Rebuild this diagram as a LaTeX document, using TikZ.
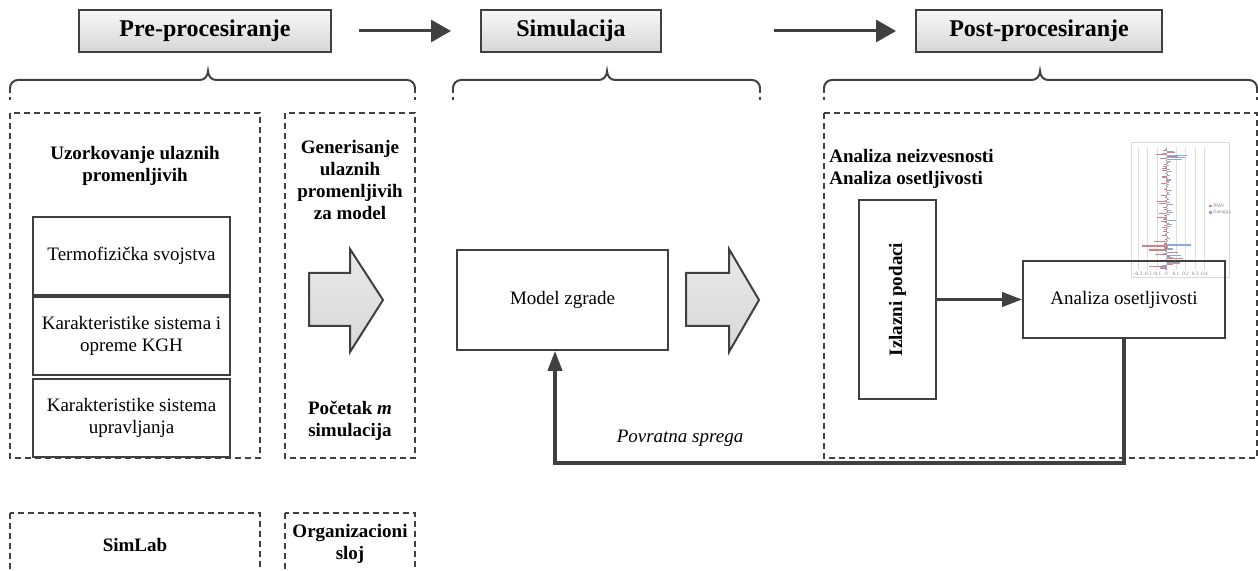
\documentclass[tikz,border=0pt]{standalone}
\usepackage{fontspec}
\setmainfont{Liberation Serif}
\usetikzlibrary{arrows.meta,calc}
\definecolor{linegray}{HTML}{404040}
\definecolor{pmvred}{RGB}{210,130,130}
\definecolor{enblue}{RGB}{140,170,215}

\begin{document}
\begin{tikzpicture}[x=0.5pt,y=-0.5pt,
  every node/.style={font=\fontsize{9.5}{11}\selectfont, inner sep=0pt, align=center},
  header/.style={draw=linegray, line width=1pt, top color=gray!6, bottom color=gray!32,
    minimum width=#1, minimum height=21pt, font=\fontsize{12}{14}\selectfont\bfseries},
  box/.style={draw=linegray, line width=0.8pt},
  bold/.style={font=\fontsize{9.5}{11}\selectfont\bfseries},
  dashbox/.style={draw=linegray, line width=1pt, dash pattern=on 3pt off 2pt},
  brace/.style={draw=linegray, line width=1pt},
  stage/.style={draw=linegray, line width=1.5pt, -{Triangle[length=10pt,width=11pt]}},
  flow/.style={draw=linegray, line width=1.8pt, -{Triangle[length=10pt,width=7pt]}},
  bigarrow/.style={draw=linegray, line width=1pt, top color=gray!18, bottom color=gray!30},
  ticklbl/.style={font=\fontsize{2.6}{2.8}\selectfont, text=gray}]
\useasboundingbox (0,0) rectangle (1258,571);

\node[header=126pt] (pre) at (205,31) {Pre-procesiranje};
\node[header=90pt] (sim) at (571,31) {Simulacija};
\node[header=123pt] (post) at (1039,31) {Post-procesiranje};
\draw[stage, shorten <=13.5pt, shorten >=14.5pt] (pre.east) -- (sim.west);
\draw[stage, shorten <=56pt, shorten >=9.5pt] (sim.east) -- (post.west);

\draw[brace] (10,88) to[out=90,in=180] (18,80) -- (200,80) to[out=0,in=-90] (208,71)
  to[out=-90,in=180] (216,80) -- (407,80) to[out=0,in=90] (415,88);
\draw[brace] (453,88) to[out=90,in=180] (461,80) -- (599,80) to[out=0,in=-90] (607,71)
  to[out=-90,in=180] (615,80) -- (752,80) to[out=0,in=90] (760,88);
\draw[brace] (824,88) to[out=90,in=180] (832,80) -- (1032,80) to[out=0,in=-90] (1040,71)
  to[out=-90,in=180] (1048,80) -- (1249,80) to[out=0,in=90] (1257,88);
\foreach \bx in {10,415,453,760,824,1257}
  \draw[dashbox] (\bx,87) -- (\bx,100);

\draw[dashbox] (10,113) rectangle (260,458);
\draw[dashbox] (285,113) rectangle (415,458);
\draw[dashbox] (824,113) rectangle (1257,458);
\draw[dashbox] (10,513) rectangle (260,580);
\draw[dashbox] (285,513) rectangle (415,580);

\node[bold] (uzork) at (135,166) {Uzorkovanje ulaznih\\promenljivih};
\node[box, minimum width=98.5pt, minimum height=39pt] (termo) at (131.5,256) {Termofizička svojstva};
\node[box, minimum width=98.5pt, minimum height=39pt] (kgh) at (131.5,336) {Karakteristike sistema i\\opreme KGH};
\node[box, minimum width=98.5pt, minimum height=39pt] (uprav) at (131.5,418) {Karakteristike sistema\\upravljanja};

\node[bold] (gener) at (350,180) {Generisanje\\ulaznih\\promenljivih\\za model};
\node[bold] (pocetak) at (350,421) {Početak \textit{m}\\simulacija};
\node[bold] (simlab) at (135,545) {SimLab};
\node[bold] (orgsloj) at (350,544) {Organizacioni\\sloj};

\draw[bigarrow] (309,273) -- (350,273) -- (350,249) -- (383,300) -- (350,352) -- (350,326) -- (309,326) -- cycle;
\draw[bigarrow] (686,273) -- (729,273) -- (729,249) -- (759,300) -- (729,352) -- (729,326) -- (686,326) -- cycle;

\node[box, minimum width=105.5pt, minimum height=50pt] (model) at (562.5,300) {Model zgrade};

\draw[gray!30, line width=0.4pt] (1131,142) rectangle (1229,277);
\foreach \k in {0,...,7}
  \draw[gray!25, line width=0.3pt] ({1138+9.5*\k},147) -- ({1138+9.5*\k},270);
\foreach \k/\t in {0/-0.3,1/-0.2,2/-0.1,3/0,4/0.1,5/0.2,6/0.3,7/0.4}
  \node[ticklbl] at ({1138+9.5*\k},274) {\t};
\pgfmathsetseed{42}
\foreach \i in {0,...,59}{
  \pgfmathsetmacro\amp{ifthenelse(\i<6,20,ifthenelse(\i<25,5,ifthenelse(\i<36,9,ifthenelse(\i<46,5,22))))}
  \pgfmathsetmacro\ra{\amp*(rand-0.25)}
  \pgfmathsetmacro\rb{\amp*(0.75*rand+0.35)}
  \pgfmathsetmacro\yy{148+2.03*\i}
  \fill[pmvred] (1166.5,\yy) rectangle ++(\ra,1.1);
  \fill[enblue] (1166.5,\yy+1) rectangle ++(\rb,1.1);
}
\fill[pmvred] (1209,205) rectangle ++(2.5,2.5);
\fill[enblue] (1209,211.5) rectangle ++(2.5,2.5);
\node[ticklbl, anchor=west] at (1213,206.3) {PMV};
\node[ticklbl, anchor=west] at (1213,212.8) {Energija};

\node[bold, anchor=west, align=left] (analize) at (829,169) {Analiza neizvesnosti\\Analiza osetljivosti};
\node[box, minimum width=38.5pt, minimum height=99.5pt] (izlaz) at (897.5,299.5) {};
\node[bold, rotate=90] at (izlaz) {Izlazni podaci};
\node[box, minimum width=101pt, minimum height=38.5pt] (osetlj) at (1124,299.5) {Analiza osetljivosti};
\draw[flow] (izlaz.east) -- (osetlj.west);

\coordinate (fb) at (555,463);
\draw[flow] (osetlj.south) |- (fb) -- (fb |- model.south);
\node[font=\fontsize{9.5}{11}\selectfont\itshape] (sprega) at (680,438) {Povratna sprega};
\end{tikzpicture}
\end{document}
